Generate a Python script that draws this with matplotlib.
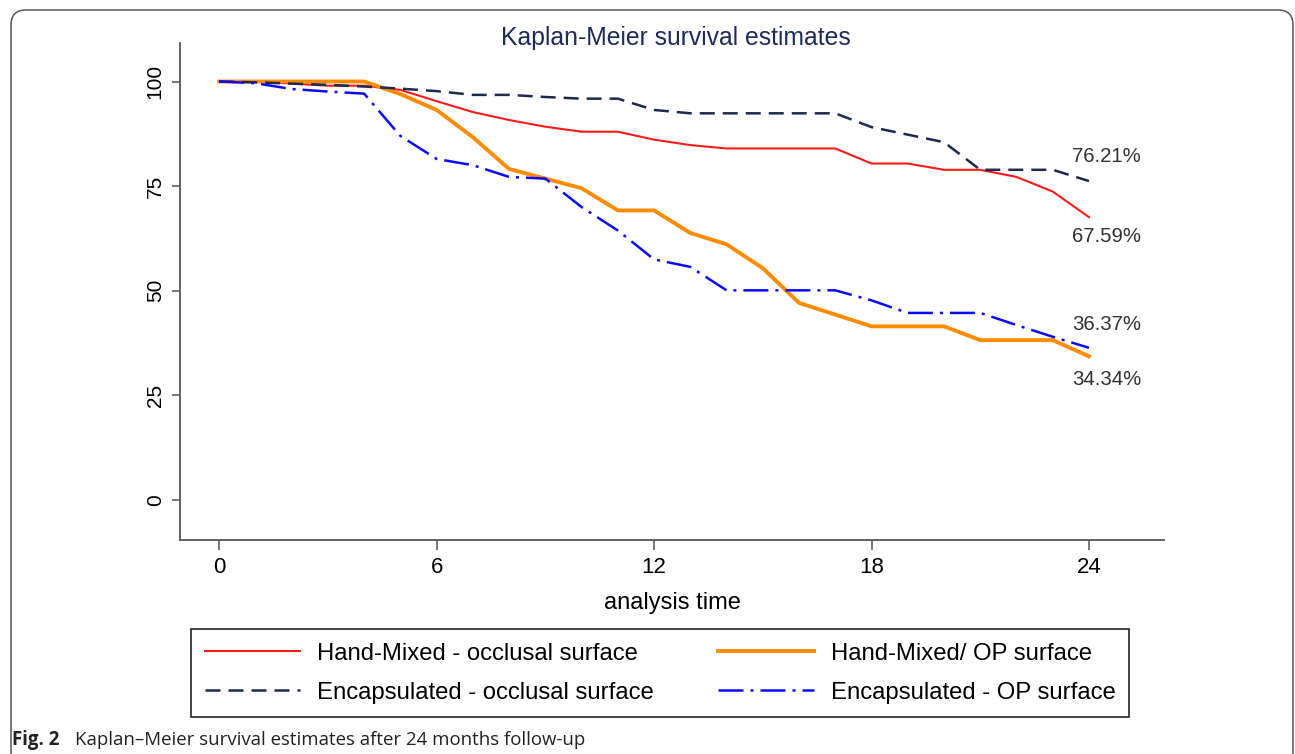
import matplotlib
matplotlib.use("Agg")
import matplotlib.pyplot as plt
from matplotlib.patches import FancyBboxPatch

plt.rcParams['font.family'] = ['Liberation Sans', 'DejaVu Sans']

# months of follow-up
months = list(range(0, 25))

# survival estimates (%)
hand_occlusal = [100, 100, 99.5, 99, 99, 98, 95.3, 92.7, 90.8, 89.2, 88, 88, 86.1,
                 84.8, 84, 84, 84, 84, 80.4, 80.4, 78.9, 78.9, 77.2, 73.7, 67.59]
hand_op = [100, 100, 100, 100, 100, 97.0, 93.2, 86.7, 79.1, 76.8, 74.5, 69.2, 69.2,
           63.8, 61.1, 55.4, 47.1, 44.3, 41.5, 41.5, 41.5, 38.2, 38.2, 38.2, 34.34]
encap_occlusal = [100, 99.8, 99.5, 99.2, 98.8, 98.3, 97.7, 96.8, 96.8, 96.3, 95.9, 95.9, 93.2,
                  92.4, 92.4, 92.4, 92.4, 92.4, 89.1, 87.3, 85.5, 78.9, 78.9, 78.9, 76.21]
encap_op = [100, 99.6, 98.2, 97.6, 97.1, 87.0, 81.5, 80.0, 77.2, 76.8, 70.0, 64.4, 57.5,
            55.7, 50.1, 50.1, 50.1, 50.1, 47.7, 44.7, 44.7, 44.7, 41.8, 39.0, 36.37]

labels = ["Hand-Mixed - occlusal surface", "Hand-Mixed/ OP surface",
          "Encapsulated - occlusal surface", "Encapsulated - OP surface"]
x_ticks = [0, 6, 12, 18, 24]
y_ticks = [0, 25, 50, 75, 100]

fig = plt.figure(figsize=(12.95, 7.54), dpi=100)
ax = fig.add_axes([180 / 1295, 1 - 540 / 754, 984 / 1295, 497 / 754])

axis_grey = '#555555'
l1, = ax.plot(months, hand_occlusal, color='#ff1a1a', lw=1.5)
l2, = ax.plot(months, hand_op, color='#ff8c00', lw=2.8)
l3, = ax.plot(months, encap_occlusal, color='#1c2a4d', lw=1.8, dashes=(6, 3.2))
l4, = ax.plot(months, encap_op, color='#0a0aff', lw=1.8, dashes=(10, 2.8, 1.2, 2.8))

# final values at the end of the curves
ends = [(encap_occlusal[-1], 18), (hand_occlusal[-1], -14),
        (encap_op[-1], 17), (hand_op[-1], -17)]
for val, dy in ends:
    ax.annotate(f"{val:.2f}%", xy=(months[-1], val), xytext=(-12, dy),
                textcoords='offset points', ha='left', va='center',
                fontsize=14.7, color='#333333')

ax.set_xlim(-1.08, 26.07)
ax.set_ylim(-9.56, 109.2)
ax.set_xticks(x_ticks)
ax.set_yticks(y_ticks)
ax.tick_params(axis='y', labelrotation=90, labelsize=15, length=6, width=1.1,
               color=axis_grey, pad=5)
for t in ax.get_yticklabels():
    t.set_va('center')
ax.tick_params(axis='x', labelsize=16, length=7, width=1.1, color=axis_grey, pad=5)
ax.set_xlabel("analysis time", fontsize=17, labelpad=10)

for side in ['top', 'right']:
    ax.spines[side].set_visible(False)
for side in ['left', 'bottom']:
    ax.spines[side].set_color(axis_grey)
    ax.spines[side].set_linewidth(1.3)

fig.text(676 / 1295, 1 - 38 / 754, "Kaplan-Meier survival estimates",
         ha='center', va='center', fontsize=17.8, color='#1e2c5a')

# legend fills column by column, so order handles to get the rows right
leg = fig.legend([l1, l3, l2, l4], [labels[0], labels[2], labels[1], labels[3]],
                 ncol=2, loc='upper left', bbox_to_anchor=(191 / 1295, 1 - 629 / 754),
                 borderaxespad=0, fontsize=17.2, handlelength=4.0, handletextpad=0.7,
                 columnspacing=2.7, labelspacing=0.7, borderpad=0.58,
                 fancybox=False, framealpha=1)
leg.get_frame().set_edgecolor('#222222')
leg.get_frame().set_linewidth(1.2)

# caption below the figure
fig.text(12 / 1295, 1 - 740 / 754, "Fig. 2", fontsize=13.4, fontweight='bold',
         family='Open Sans', color='#222222', va='center')
fig.text(75 / 1295, 1 - 740 / 754,
         "Kaplan\u2013Meier survival estimates after 24 months follow-up",
         fontsize=13.4, family='Open Sans', color='#222222', va='center')

# rounded frame around the figure
frame = FancyBboxPatch((0.11, -0.3), 12.82, 7.74, boxstyle="round,pad=0,rounding_size=0.15",
                       transform=fig.dpi_scale_trans, fill=False, edgecolor='#555555', lw=1.1)
fig.patches.append(frame)

fig.savefig("out.png", dpi=100)
